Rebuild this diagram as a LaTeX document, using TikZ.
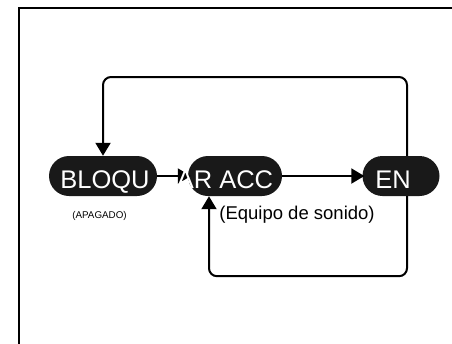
\documentclass[tikz,border=0pt]{standalone}
\usepackage{fontspec}
\setmainfont{Liberation Sans}
\usetikzlibrary{arrows.meta}
\begin{document}
\begin{tikzpicture}[x=1pt,y=-1pt,
 pill/.style={fill=black!90, rounded corners=20pt, minimum height=40pt, inner sep=0pt},
 big/.style={text=white, font=\fontsize{25.5}{25.5}\selectfont, anchor=base, inner sep=0pt},
 conn/.style={line width=2pt, -{Triangle[length=13pt,width=15pt]}},
 loopconn/.style={conn, rounded corners=8pt},
 lbl/.style={anchor=base, inner sep=0pt}]
\useasboundingbox (0,0) rectangle (452,343);
\begin{scope}
\clip (0,0) rectangle (452,343);
\draw[line width=2pt] (19,8) rectangle (480,370);
\end{scope}
\node[pill, minimum width=108pt] (bloq) at (103,176) {};
\node[pill, minimum width=94pt] (acc) at (235,176) {};
\node[pill, minimum width=77pt] (en) at (401,176) {};
\draw[conn] (bloq.east) -- ([xshift=3pt]acc.west);
\draw[conn] (acc.east) -- ([xshift=2pt]en.west);
\draw[loopconn] ([xshift=6pt]en.north) |- (103,77) -- (bloq.north);
\draw[loopconn] ([xshift=6pt]en.south) -- ++(0,80) -| ([xshift=-26pt]acc.south);
\node[big] (t1) at (105,188.5) {BLOQU};
\node[big] (t2) at (225,188.5) {AR ACC};
\node[big] (t3) at (393,188.5) {EN};
\node[lbl, font=\fontsize{18.5}{18.5}\selectfont] (equipo) at (297,219) {(Equipo de sonido)};
\node[lbl, font=\fontsize{9.8}{9.8}\selectfont] (apagado) at (99.5,218.5) {(APAGADO)};
\end{tikzpicture}
\end{document}
